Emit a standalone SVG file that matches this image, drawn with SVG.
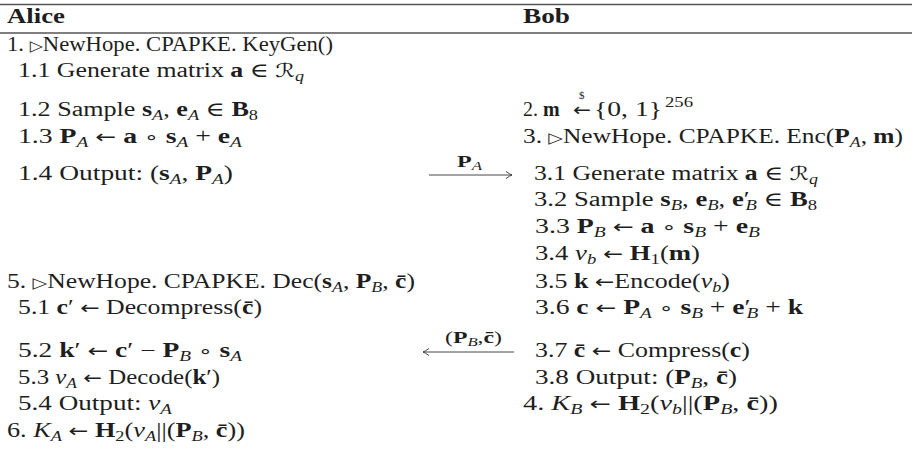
<svg xmlns="http://www.w3.org/2000/svg" width="912" height="454" viewBox="0 0 912 454">
<style>
text{font-family:"Liberation Serif","DejaVu Serif",serif;font-size:20px;fill:#1e1e1e}
.hd{font-weight:700}
.bf{font-weight:700}
.it{font-style:italic}
.sb{font-size:14px;font-style:italic}
.sn{font-size:14px}
.op{font-family:"DejaVu Sans",sans-serif;font-size:18px;font-weight:400;font-style:normal}
.ring{font-family:"DejaVu Sans",sans-serif;font-size:17px}
.cal{font-family:"DejaVu Serif","DejaVu Sans",serif;font-style:italic;font-size:19px}
.tri{font-family:"DejaVu Sans",sans-serif;font-size:15px}
.lbl{font-size:17px}
.lsb{font-size:12px;font-style:italic}
.rule{stroke:#555;stroke-width:1.3}
.arr{stroke:#333;stroke-width:0.9;fill:none}
</style>
<defs>
<marker id="ah" markerUnits="userSpaceOnUse" markerWidth="12" markerHeight="10" refX="9" refY="5" orient="auto">
<path d="M3,1.5 Q7,4.3 9,5 Q7,5.7 3,8.5" fill="none" stroke="#333" stroke-width="0.9"/>
</marker>
</defs>
<g id="table-rules">
<line class="rule" x1="0" y1="4.5" x2="912" y2="4.5"/>
<line class="rule" x1="0" y1="33" x2="912" y2="33"/>
</g>
<g id="header">
<text class="hd" x="7" y="23" textLength="58" lengthAdjust="spacingAndGlyphs">Alice</text>
<text class="hd" x="523" y="23" textLength="47" lengthAdjust="spacingAndGlyphs">Bob</text>
</g>
<g id="alice">
<g id="a1"><text x="7" y="51" textLength="326" lengthAdjust="spacingAndGlyphs">1. <tspan class="tri">▷</tspan>NewHope. CPAPKE. KeyGen()</text></g>
<g id="a1-1"><text x="18" y="77" textLength="286" lengthAdjust="spacingAndGlyphs">1.1 Generate matrix <tspan class="bf">a</tspan> ∈ <tspan class="cal">ℛ</tspan><tspan class="sb" dy="4">q</tspan></text></g>
<g id="a1-2"><text x="18" y="116" textLength="240" lengthAdjust="spacingAndGlyphs">1.2 Sample <tspan class="bf">s</tspan><tspan class="sb" dy="4">A</tspan><tspan dy="-4">, </tspan><tspan class="bf">e</tspan><tspan class="sb" dy="4">A</tspan><tspan dy="-4"> ∈ </tspan><tspan class="bf">B</tspan><tspan class="sn" dy="4">8</tspan></text></g>
<g id="a1-3"><text x="18" y="143" textLength="224" lengthAdjust="spacingAndGlyphs">1.3 <tspan class="bf">P</tspan><tspan class="sb" dy="4">A</tspan><tspan dy="-4"> </tspan><tspan class="op">←</tspan> <tspan class="bf">a</tspan> <tspan class="ring">∘</tspan> <tspan class="bf">s</tspan><tspan class="sb" dy="4">A</tspan><tspan dy="-4"> + </tspan><tspan class="bf">e</tspan><tspan class="sb" dy="4">A</tspan></text></g>
<g id="a1-4"><text x="18" y="180" textLength="215" lengthAdjust="spacingAndGlyphs">1.4 Output: (<tspan class="bf">s</tspan><tspan class="sb" dy="4">A</tspan><tspan dy="-4">, </tspan><tspan class="bf">P</tspan><tspan class="sb" dy="4">A</tspan><tspan dy="-4">)</tspan></text></g>
<g id="a5"><text x="7" y="288" textLength="408" lengthAdjust="spacingAndGlyphs">5. <tspan class="tri">▷</tspan>NewHope. CPAPKE. Dec(<tspan class="bf">s</tspan><tspan class="sb" dy="4">A</tspan><tspan dy="-4">, </tspan><tspan class="bf">P</tspan><tspan class="sb" dy="4">B</tspan><tspan dy="-4">, </tspan><tspan class="bf">c̄</tspan>)</text></g>
<g id="a5-1"><text x="18" y="314" textLength="244" lengthAdjust="spacingAndGlyphs">5.1 <tspan class="bf">c</tspan>′ <tspan class="op">←</tspan> Decompress(<tspan class="bf">c̄</tspan>)</text></g>
<g id="a5-2"><text x="18" y="357" textLength="224" lengthAdjust="spacingAndGlyphs">5.2 <tspan class="bf">k</tspan>′ <tspan class="op">←</tspan> <tspan class="bf">c</tspan>′ − <tspan class="bf">P</tspan><tspan class="sb" dy="4">B</tspan><tspan dy="-4"> </tspan><tspan class="ring">∘</tspan> <tspan class="bf">s</tspan><tspan class="sb" dy="4">A</tspan></text></g>
<g id="a5-3"><text x="18" y="384" textLength="202" lengthAdjust="spacingAndGlyphs">5.3 <tspan class="it">v</tspan><tspan class="sb" dy="4">A</tspan><tspan dy="-4"> </tspan><tspan class="op">←</tspan> Decode(<tspan class="bf">k</tspan>′)</text></g>
<g id="a5-4"><text x="18" y="410" textLength="154" lengthAdjust="spacingAndGlyphs">5.4 Output: <tspan class="it">v</tspan><tspan class="sb" dy="4">A</tspan></text></g>
<g id="a6"><text x="7" y="437" textLength="238" lengthAdjust="spacingAndGlyphs">6. <tspan class="it">K</tspan><tspan class="sb" dy="4">A</tspan><tspan dy="-4"> </tspan><tspan class="op">←</tspan> <tspan class="bf">H</tspan><tspan class="sn" dy="4">2</tspan><tspan dy="-4">(</tspan><tspan class="it">v</tspan><tspan class="sb" dy="4">A</tspan><tspan dy="-4">||(</tspan><tspan class="bf">P</tspan><tspan class="sb" dy="4">B</tspan><tspan dy="-4">, </tspan><tspan class="bf">c̄</tspan>))</text></g>
</g>
<g id="bob">
<g id="b2">
<text x="523" y="116">2. <tspan class="bf">m</tspan></text>
<text class="op" x="573" y="116" textLength="18" lengthAdjust="spacingAndGlyphs">←</text>
<text x="579" y="99" style="font-size:11px">$</text>
<text x="594" y="116" textLength="68" lengthAdjust="spacingAndGlyphs">{0, 1}</text>
<text x="665" y="107" class="sn" textLength="28" lengthAdjust="spacingAndGlyphs">256</text>
</g>
<g id="b3"><text x="523" y="143" textLength="380" lengthAdjust="spacingAndGlyphs">3. <tspan class="tri">▷</tspan>NewHope. CPAPKE. Enc(<tspan class="bf">P</tspan><tspan class="sb" dy="4">A</tspan><tspan dy="-4">, </tspan><tspan class="bf">m</tspan>)</text></g>
<g id="b3-1"><text x="534" y="180" textLength="284" lengthAdjust="spacingAndGlyphs">3.1 Generate matrix <tspan class="bf">a</tspan> ∈ <tspan class="cal">ℛ</tspan><tspan class="sb" dy="4">q</tspan></text></g>
<g id="b3-2"><text x="534" y="206" textLength="283" lengthAdjust="spacingAndGlyphs">3.2 Sample <tspan class="bf">s</tspan><tspan class="sb" dy="4">B</tspan><tspan dy="-4">, </tspan><tspan class="bf">e</tspan><tspan class="sb" dy="4">B</tspan><tspan dy="-4">, </tspan><tspan class="bf">e</tspan>′<tspan class="sb" dx="-3" dy="4">B</tspan><tspan dy="-4"> ∈ </tspan><tspan class="bf">B</tspan><tspan class="sn" dy="4">8</tspan></text></g>
<g id="b3-3"><text x="535" y="233" textLength="225" lengthAdjust="spacingAndGlyphs">3.3 <tspan class="bf">P</tspan><tspan class="sb" dy="4">B</tspan><tspan dy="-4"> </tspan><tspan class="op">←</tspan> <tspan class="bf">a</tspan> <tspan class="ring">∘</tspan> <tspan class="bf">s</tspan><tspan class="sb" dy="4">B</tspan><tspan dy="-4"> + </tspan><tspan class="bf">e</tspan><tspan class="sb" dy="4">B</tspan></text></g>
<g id="b3-4"><text x="535" y="260" textLength="165" lengthAdjust="spacingAndGlyphs">3.4 <tspan class="it">v</tspan><tspan class="sb" dy="4">b</tspan><tspan dy="-4"> </tspan><tspan class="op">←</tspan> <tspan class="bf">H</tspan><tspan class="sn" dy="4">1</tspan><tspan dy="-4">(</tspan><tspan class="bf">m</tspan>)</text></g>
<g id="b3-5"><text x="535" y="288" textLength="195" lengthAdjust="spacingAndGlyphs">3.5 <tspan class="bf">k</tspan> <tspan class="op">←</tspan>Encode(<tspan class="it">v</tspan><tspan class="sb" dy="4">b</tspan><tspan dy="-4">)</tspan></text></g>
<g id="b3-6"><text x="535" y="314" textLength="268" lengthAdjust="spacingAndGlyphs">3.6 <tspan class="bf">c</tspan> <tspan class="op">←</tspan> <tspan class="bf">P</tspan><tspan class="sb" dy="4">A</tspan><tspan dy="-4"> </tspan><tspan class="ring">∘</tspan> <tspan class="bf">s</tspan><tspan class="sb" dy="4">B</tspan><tspan dy="-4"> + </tspan><tspan class="bf">e</tspan>′<tspan class="sb" dx="-3" dy="4">B</tspan><tspan dy="-4"> + </tspan><tspan class="bf">k</tspan></text></g>
<g id="b3-7"><text x="535" y="357" textLength="215" lengthAdjust="spacingAndGlyphs">3.7 <tspan class="bf">c̄</tspan> <tspan class="op">←</tspan> Compress(<tspan class="bf">c</tspan>)</text></g>
<g id="b3-8"><text x="535" y="384" textLength="202" lengthAdjust="spacingAndGlyphs">3.8 Output: (<tspan class="bf">P</tspan><tspan class="sb" dy="4">B</tspan><tspan dy="-4">, </tspan><tspan class="bf">c̄</tspan>)</text></g>
<g id="b4"><text x="523" y="410" textLength="255" lengthAdjust="spacingAndGlyphs">4. <tspan class="it">K</tspan><tspan class="sb" dy="4">B</tspan><tspan dy="-4"> </tspan><tspan class="op">←</tspan> <tspan class="bf">H</tspan><tspan class="sn" dy="4">2</tspan><tspan dy="-4">(</tspan><tspan class="it">v</tspan><tspan class="sb" dy="4">b</tspan><tspan dy="-4">||(</tspan><tspan class="bf">P</tspan><tspan class="sb" dy="4">B</tspan><tspan dy="-4">, </tspan><tspan class="bf">c̄</tspan>))</text></g>
</g>
<g id="connectors">
<path class="arr" d="M429,175 H512" marker-end="url(#ah)"/>
<text class="lbl" x="457" y="167" textLength="25" lengthAdjust="spacingAndGlyphs"><tspan class="bf">P</tspan><tspan class="lsb" dy="3">A</tspan></text>
<path class="arr" d="M514,352 H423" marker-end="url(#ah)"/>
<text class="lbl" x="445" y="343" textLength="57" lengthAdjust="spacingAndGlyphs">(<tspan class="bf">P</tspan><tspan class="lsb" dy="3">B</tspan><tspan dy="-3">,</tspan><tspan class="bf">c̄</tspan>)</text>
</g>
</svg>
